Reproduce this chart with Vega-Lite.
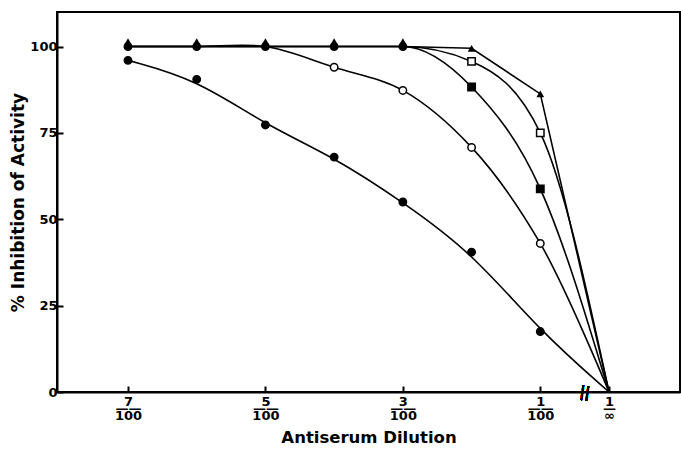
{
  "$schema": "https://vega.github.io/schema/vega-lite/v6.json",
  "width": 623,
  "height": 380,
  "autosize": {"type": "none"},
  "padding": {"left": 57, "top": 12, "right": 1, "bottom": 58},
  "background": "white",
  "config": {
    "view": {"stroke": "black", "strokeWidth": 2},
    "font": "DejaVu Sans",
    "axis": {"grid": false, "domainColor": "black", "domainWidth": 2, "tickColor": "black", "tickWidth": 2, "labelColor": "black", "titleColor": "black", "labelFontWeight": "bold", "titleFontWeight": "bold"}
  },
  "data": {
    "values": [
      {"s": "B", "x": 7, "y": 100}, {"s": "B", "x": 6, "y": 100}, {"s": "B", "x": 5, "y": 100}, {"s": "B", "x": 4, "y": 94}, {"s": "B", "x": 3, "y": 87.3}, {"s": "B", "x": 2, "y": 70.8}, {"s": "B", "x": 1, "y": 43}, {"s": "B", "x": 0, "y": 0},
      {"s": "D", "x": 7, "y": 100}, {"s": "D", "x": 6, "y": 100}, {"s": "D", "x": 5, "y": 100}, {"s": "D", "x": 4, "y": 100}, {"s": "D", "x": 3, "y": 100}, {"s": "D", "x": 2, "y": 95.7}, {"s": "D", "x": 1, "y": 75}, {"s": "D", "x": 0, "y": 0},
      {"s": "C", "x": 7, "y": 100}, {"s": "C", "x": 6, "y": 100}, {"s": "C", "x": 5, "y": 100}, {"s": "C", "x": 4, "y": 100}, {"s": "C", "x": 3, "y": 100}, {"s": "C", "x": 2, "y": 88.3}, {"s": "C", "x": 1, "y": 58.8}, {"s": "C", "x": 0, "y": 0},
      {"s": "A", "x": 7, "y": 96}, {"s": "A", "x": 6, "y": 90.5}, {"s": "A", "x": 5, "y": 77.3}, {"s": "A", "x": 4, "y": 68}, {"s": "A", "x": 3, "y": 55}, {"s": "A", "x": 2, "y": 40.5}, {"s": "A", "x": 1, "y": 17.5}, {"s": "A", "x": 0, "y": 0},
      {"s": "E", "x": 7, "y": 100}, {"s": "E", "x": 6, "y": 100}, {"s": "E", "x": 5, "y": 100}, {"s": "E", "x": 4, "y": 100}, {"s": "E", "x": 3, "y": 100}, {"s": "E", "x": 2, "y": 99.5}, {"s": "E", "x": 1, "y": 86.3}, {"s": "E", "x": 0, "y": 0}
    ]
  },
  "encoding": {
    "x": {
      "field": "x", "type": "quantitative",
      "scale": {"domain": [-1.033, 8.033], "reverse": true, "nice": false, "zero": false},
      "axis": {
        "values": [7, 5, 3, 1, 0],
        "labelExpr": "datum.value == 0 ? ['1', '\u2014', '\u221e'] : [datum.label, '\u2014\u2014', '100']",
        "labelFontSize": 13, "labelLineHeight": 7, "labelPadding": 9, "labelBaseline": "top",
        "tickSize": -6, "tickWidth": 2,
        "title": "Antiserum Dilution", "titleFontSize": 16.5, "titlePadding": 7
      }
    },
    "y": {
      "field": "y", "type": "quantitative",
      "scale": {"domain": [0, 110], "nice": false},
      "axis": {
        "values": [0, 25, 50, 75, 100],
        "labelFontSize": 13, "labelPadding": 6, "tickSize": -6,
        "title": "% Inhibition of Activity", "titleFontSize": 17, "titlePadding": 2
      }
    }
  },
  "layer": [
    {
      "transform": [{"filter": "datum.s == 'A'"}],
      "mark": {"type": "line", "interpolate": "basis", "color": "black", "strokeWidth": 1.6},
      "encoding": {}
    },
    {
      "transform": [{"filter": "datum.s == 'B'"}],
      "mark": {"type": "line", "interpolate": "catmull-rom", "color": "black", "strokeWidth": 1.6},
      "encoding": {}
    },
    {
      "transform": [{"filter": "datum.s == 'C' || datum.s == 'D'"}],
      "mark": {"type": "line", "interpolate": "monotone", "color": "black", "strokeWidth": 1.6},
      "encoding": {"detail": {"field": "s"}}
    },
    {
      "transform": [{"filter": "datum.s == 'E'"}],
      "mark": {"type": "line", "color": "black", "strokeWidth": 1.6},
      "encoding": {}
    },
    {
      "transform": [{"filter": "datum.x > 0 && datum.s != 'E' && !((datum.s == 'B' || datum.s == 'D') && datum.y >= 99.9)"}],
      "mark": {"type": "point", "filled": true, "stroke": "black", "strokeWidth": 1.5, "size": 55, "opacity": 1},
      "encoding": {
        "shape": {"condition": {"test": "datum.y >= 99.9", "value": "circle"}, "field": "s", "type": "nominal", "scale": {"domain": ["A", "B", "C", "D"], "range": ["circle", "circle", "square", "square"]}, "legend": null},
        "fill": {"field": "s", "type": "nominal", "scale": {"domain": ["A", "B", "C", "D"], "range": ["black", "white", "black", "white"]}, "legend": null}
      }
    },
    {
      "transform": [{"filter": "datum.s == 'E' && datum.x > 0 && datum.y < 99.9"}],
      "mark": {"type": "point", "shape": "triangle-up", "filled": true, "color": "black", "size": 60, "opacity": 1},
      "encoding": {}
    },
    {
      "transform": [{"filter": "datum.s == 'E' && datum.x > 0 && datum.y >= 99.9"}],
      "mark": {"type": "point", "shape": "triangle-up", "filled": true, "color": "black", "size": 55, "opacity": 1, "yOffset": -5},
      "encoding": {}
    },
    {
      "mark": {"type": "text", "text": "||", "fontSize": 15, "color": "black", "angle": 8},
      "encoding": {"x": {"datum": 0.35}, "y": {"datum": 0}}
    }
  ]
}
